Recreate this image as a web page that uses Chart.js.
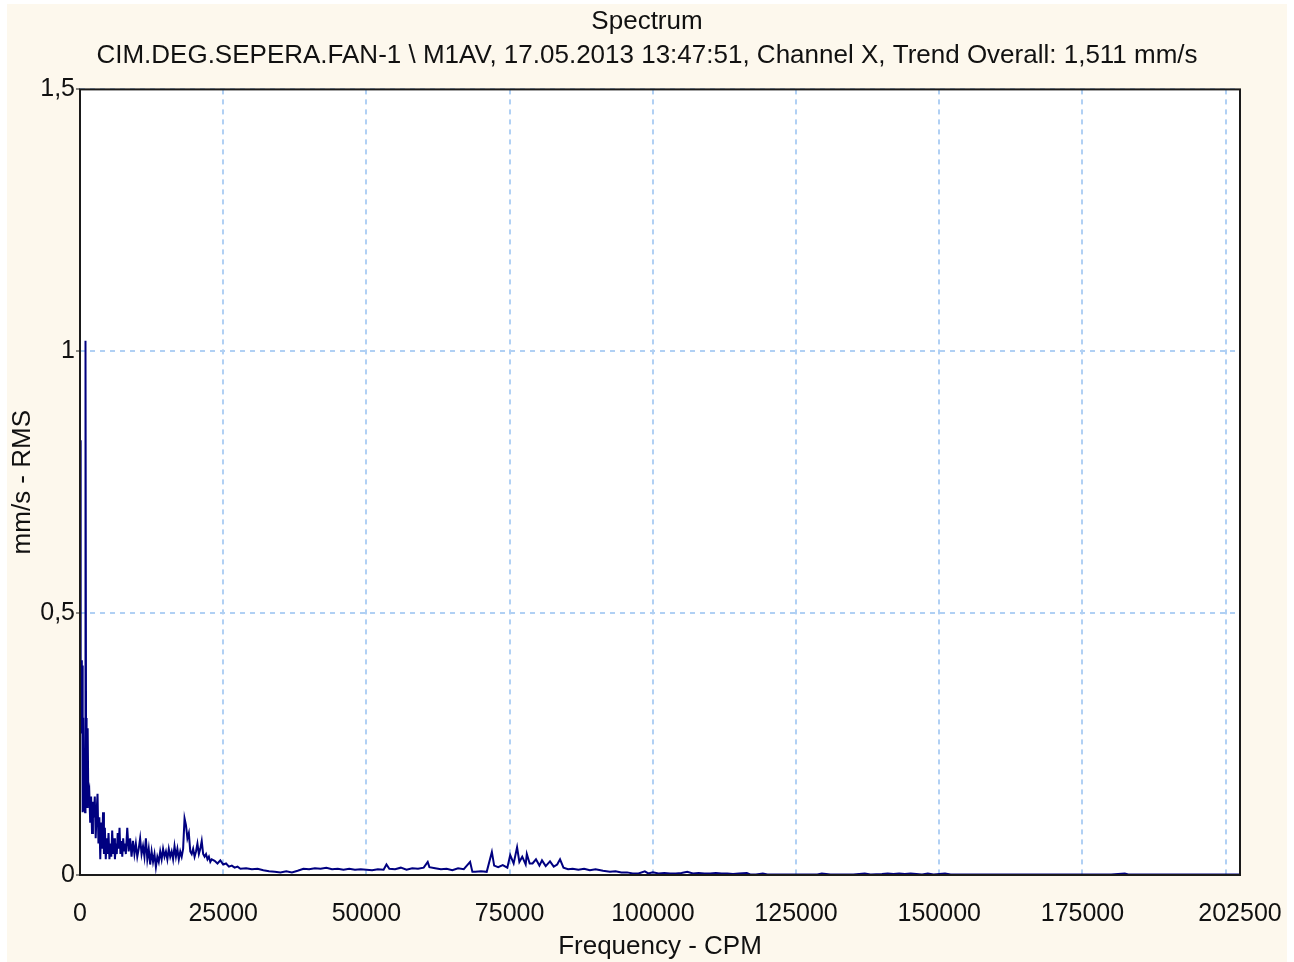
<!DOCTYPE html>
<html>
<head>
<meta charset="utf-8">
<script src="https://cdn.jsdelivr.net/npm/chart.js@4"></script>
<style>
  html, body { margin: 0; padding: 0; background: #ffffff; }
  #frame { position: absolute; left: 7px; top: 4px; width: 1280px; height: 958px; background: #fdf8ed; }
  #spectrum { position: absolute; left: 0; top: 0; }
</style>
</head>
<body>
<div id="frame"></div>
<canvas id="spectrum" width="1294" height="962"></canvas>
<script>
const chartTitle = 'Spectrum';
const chartSubtitle = 'CIM.DEG.SEPERA.FAN-1 \\ M1AV, 17.05.2013 13:47:51, Channel X, Trend Overall: 1,511 mm/s';
const xAxisTitle = 'Frequency - CPM';
const yAxisTitle = 'mm/s - RMS';

// grid positions on the frequency axis, and which of them carry a label
const xTicks = [0, 25000, 50000, 75000, 100000, 125000, 150000, 175000, 200000, 202500];
const xTickLabels = ['0', '25000', '50000', '75000', '100000', '125000', '150000', '175000', '', '202500'];
const yTicks = [0, 0.5, 1, 1.5];
const yTickLabels = ['0', '0,5', '1', '1,5'];

// frequency (CPM) of each spectrum line
const freqs = [
  0, 80, 160, 240, 320, 400, 470, 560, 700, 880, 960, 1050, 1150, 1250, 1340, 1450,
  1620, 1780, 1940, 2100, 2260, 2420, 2580, 2740, 2900, 3060, 3220, 3380, 3540, 3700, 3860,
  4020, 4180, 4340, 4500, 4660, 4820, 4980, 5140, 5300, 5460, 5620, 5780, 5940, 6100, 6260,
  6420, 6580, 6740, 6900, 7060, 7220, 7380, 7540, 7700, 7860,
  8000, 8250, 8500, 8750, 9000, 9250, 9500, 9750, 10000, 10250, 10500, 10750, 11000, 11250,
  11500, 11750, 12000, 12250, 12500, 12750, 13000, 13250, 13500, 13750, 14000, 14250, 14500,
  14750, 15000, 15250, 15500, 15750, 16000, 16250, 16500, 16750, 17000, 17250, 17500, 17750,
  18000, 18250, 18500, 18750, 19000, 19250, 19500, 19750, 20000, 20250, 20500, 20750, 21000,
  21250, 21500, 21750, 22000, 22250, 22500, 22750, 23000, 23500, 24000, 24500, 25000, 25500,
  26000, 26500, 27000, 27500, 28000, 29000, 30000, 31000, 32000, 33000, 34000, 35000, 36000,
  37000, 38000, 39000, 40000, 41000, 42000, 43000, 44000, 45000, 46000, 47000, 48000, 49000,
  50000, 51000, 52000, 53000, 53500, 54000, 55000, 56000, 57000, 58000, 59000, 60000, 60700,
  61000, 62000, 63000, 64000, 65000, 66000, 67000, 68100, 68500, 69000, 70000, 71000, 71900,
  72300, 73000, 73800, 74600, 75100, 75700, 76300, 76700, 77200, 77800, 78000, 78500, 79000,
  79600, 80200, 80650, 81300, 82050, 82700, 83300, 83800, 84400, 85200, 86000, 87000, 88000,
  89000, 90000, 91300, 92500, 93500, 94500, 95500, 96500, 97500, 98600, 99200, 100000, 101000,
  102000, 103000, 104000, 105000, 106000, 107000, 108000, 109000, 110000, 111000, 112000,
  113000, 114000, 115000, 116400, 117000, 118000, 119200, 120000, 122000, 125000, 128700,
  129500, 131000, 133000, 135000, 137000, 138000, 140000, 141000, 142000, 143000, 144000,
  145000, 146000, 147000, 148000, 149000, 150000, 151000, 152000, 155000, 160000, 165000,
  170000, 175000, 180000, 182400, 183000, 190000, 195000, 200000, 202500
];

// amplitude (mm/s RMS) at each frequency above
const amps = [
  0.28, 0.83, 0.30, 0.41, 0.27, 0.40, 0.12, 0.30, 0.13, 0.12, 1.02, 0.30, 0.28, 0.13, 0.28, 0.15,
  0.16, 0.10, 0.15, 0.08, 0.14, 0.11, 0.15, 0.07, 0.12, 0.155, 0.06, 0.11, 0.03, 0.10, 0.05,
  0.12, 0.04, 0.09, 0.03, 0.07, 0.04, 0.08, 0.03, 0.06, 0.035, 0.085, 0.04, 0.07, 0.03, 0.06,
  0.04, 0.08, 0.05, 0.09, 0.04, 0.065, 0.035, 0.07, 0.045, 0.06,
  0.04, 0.09, 0.045, 0.07, 0.035, 0.065, 0.04, 0.06, 0.035, 0.05, 0.07, 0.04, 0.055, 0.035,
  0.07, 0.03, 0.05, 0.02, 0.045, 0.025, 0.04, 0.015, 0.035, 0.025, 0.045, 0.03, 0.05,
  0.035, 0.045, 0.03, 0.05, 0.035, 0.045, 0.03, 0.055, 0.035, 0.05, 0.03, 0.045, 0.035,
  0.05, 0.108, 0.095, 0.07, 0.08, 0.045, 0.04, 0.05, 0.035, 0.045, 0.06, 0.04, 0.05,
  0.065, 0.04, 0.035, 0.04, 0.03, 0.035, 0.025, 0.03, 0.027, 0.022, 0.028, 0.02, 0.022,
  0.016, 0.018, 0.014, 0.016, 0.012, 0.013, 0.011, 0.012, 0.009, 0.007, 0.006, 0.005, 0.007,
  0.005, 0.008, 0.012, 0.011, 0.013, 0.012, 0.014, 0.011, 0.012, 0.010, 0.012, 0.010, 0.011,
  0.010, 0.009, 0.011, 0.010, 0.020, 0.012, 0.011, 0.014, 0.010, 0.013, 0.012, 0.014, 0.025,
  0.015, 0.013, 0.011, 0.012, 0.009, 0.013, 0.011, 0.025, 0.006, 0.006, 0.007, 0.006, 0.044,
  0.018, 0.015, 0.019, 0.014, 0.038, 0.022, 0.053, 0.025, 0.035, 0.020, 0.040, 0.022, 0.022,
  0.030, 0.018, 0.028, 0.017, 0.026, 0.016, 0.020, 0.030, 0.014, 0.011, 0.012, 0.010, 0.012,
  0.009, 0.011, 0.008, 0.006, 0.007, 0.005, 0.005, 0.003, 0.003, 0.007, 0.003, 0.005, 0.003,
  0.004, 0.003, 0.003, 0.004, 0.006, 0.003, 0.004, 0.003, 0.003, 0.004, 0.003,
  0.003, 0.002, 0.003, 0.004, 0.001, 0.001, 0.003, 0.001, 0.001, 0.001, 0.001,
  0.003, 0.001, 0.001, 0.001, 0.003, 0.001, 0.002, 0.003, 0.002, 0.003, 0.002,
  0.003, 0.002, 0.001, 0.003, 0.001, 0.002, 0.003, 0.001, 0.001, 0.001, 0.001,
  0.001, 0.001, 0.001, 0.003, 0.001, 0.001, 0.001, 0.001, 0.001
];

const points = freqs.map((f, i) => ({ x: f, y: amps[i] }));

const fontFamily = '"Liberation Sans", Arial, sans-serif';
const textColor = '#111111';
const gridColor = '#b0d0f4';

// white plot area and black frame like the original viewer
const plotFrame = {
  id: 'plotFrame',
  beforeDraw(chart) {
    const a = chart.chartArea;
    const ctx = chart.ctx;
    ctx.save();
    ctx.fillStyle = '#ffffff';
    ctx.fillRect(a.left, a.top, a.right - a.left, a.bottom - a.top);
    ctx.restore();
  },
  afterDatasetsDraw(chart) {
    const a = chart.chartArea;
    const ctx = chart.ctx;
    ctx.save();
    ctx.strokeStyle = '#1a1a1a';
    ctx.lineWidth = 2;
    ctx.strokeRect(a.left, a.top, a.right - a.left, a.bottom - a.top);
    ctx.restore();
  }
};

new Chart(document.getElementById('spectrum'), {
  type: 'line',
  data: {
    datasets: [{
      label: 'Spectrum',
      data: points,
      borderColor: '#000080',
      borderWidth: 2,
      pointRadius: 0,
      tension: 0,
      fill: false
    }]
  },
  options: {
    responsive: false,
    animation: false,
    layout: { padding: 0 },
    plugins: {
      legend: { display: false },
      tooltip: { enabled: false },
      title: {
        display: true,
        text: chartTitle,
        color: textColor,
        font: { family: fontFamily, size: 26, weight: 'normal' },
        padding: { top: 6, bottom: 3 }
      },
      subtitle: {
        display: true,
        text: chartSubtitle,
        color: textColor,
        font: { family: fontFamily, size: 26 },
        padding: { top: 0, bottom: 18 }
      }
    },
    scales: {
      x: {
        type: 'linear',
        min: 0,
        max: 202500,
        afterBuildTicks: (scale) => { scale.ticks = xTicks.map(v => ({ value: v })); },
        afterFit: (scale) => { scale.height = 87; },
        ticks: {
          color: textColor,
          font: { family: fontFamily, size: 25 },
          padding: 0,
          maxRotation: 0,
          autoSkip: false,
          callback: (v) => xTickLabels[xTicks.indexOf(v)]
        },
        // invisible tick marks only push the labels down
        grid: { color: gridColor, drawTicks: true, tickLength: 24, tickColor: 'rgba(0,0,0,0)', tickBorderDash: [], lineWidth: 2 },
        border: { display: false, dash: [5, 5] },
        title: {
          display: true,
          text: xAxisTitle,
          color: textColor,
          font: { family: fontFamily, size: 26 },
          padding: { top: 0, bottom: 0 }
        }
      },
      y: {
        min: 0,
        max: 1.5,
        afterBuildTicks: (scale) => { scale.ticks = yTicks.map(v => ({ value: v })); },
        afterFit: (scale) => { scale.width = 80; },
        ticks: {
          color: textColor,
          font: { family: fontFamily, size: 25 },
          padding: 1,
          callback: (v) => yTickLabels[yTicks.indexOf(v)]
        },
        grid: { color: gridColor, tickColor: '#1a1a1a', tickLength: 4, tickWidth: 1, tickBorderDash: [], lineWidth: 2 },
        border: { display: false, dash: [5, 5] },
        title: {
          display: true,
          text: yAxisTitle,
          color: textColor,
          font: { family: fontFamily, size: 26 },
          padding: { top: 7, bottom: 0 }
        }
      },
      // empty strip on the right so the frame ends where the original does
      rightGap: {
        type: 'linear',
        position: 'right',
        display: true,
        afterFit: (scale) => { scale.width = 54; },
        ticks: { display: false },
        grid: { display: false, drawTicks: false },
        border: { display: false }
      }
    }
  },
  plugins: [plotFrame]
});
</script>
</body>
</html>
